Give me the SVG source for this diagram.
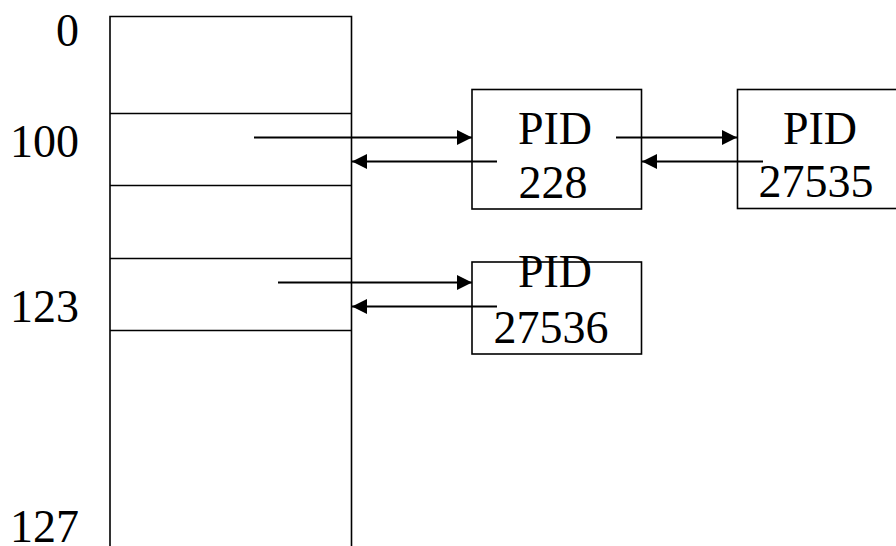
<svg xmlns="http://www.w3.org/2000/svg" width="896" height="546" viewBox="0 0 896 546">
<style>
.box{fill:#fff;stroke:#000;stroke-width:1.6}
.ln{stroke:#000;stroke-width:1.6;fill:none}
.t{font-family:"Liberation Serif","Times New Roman",serif;font-size:46px;fill:#000}
.c{stroke:#000;stroke-width:2;fill:none}
</style>
<defs>
<marker id="ah" markerUnits="userSpaceOnUse" markerWidth="16" markerHeight="16" viewBox="0 0 16 16" refX="15" refY="8" orient="auto">
<path d="M0,0.5 L15,8 L0,15.5 Z" fill="#000"/>
</marker>
</defs>
<g id="table">
<path class="ln" d="M110,560 L110,16.5 L351.5,16.5 L351.5,560"/>
<line class="ln" x1="110" y1="113.5" x2="351.5" y2="113.5"/>
<line class="ln" x1="110" y1="185.5" x2="351.5" y2="185.5"/>
<line class="ln" x1="110" y1="258.5" x2="351.5" y2="258.5"/>
<line class="ln" x1="110" y1="330.5" x2="351.5" y2="330.5"/>
<text class="t" x="79" y="46" text-anchor="end">0</text>
<text class="t" x="79" y="157" text-anchor="end">100</text>
<text class="t" x="79" y="322" text-anchor="end">123</text>
<text class="t" x="79" y="542" text-anchor="end">127</text>
</g>
<g id="pid228">
<rect class="box" x="472" y="89.5" width="169.5" height="119.5"/>
<text class="t" x="555" y="144" text-anchor="middle">PID</text>
<text class="t" x="553" y="198" text-anchor="middle">228</text>
</g>
<g id="pid27535">
<rect class="box" x="737.5" y="89.5" width="170" height="119"/>
<text class="t" x="820" y="144" text-anchor="middle">PID</text>
<text class="t" x="816" y="197" text-anchor="middle">27535</text>
</g>
<g id="pid27536">
<rect class="box" x="472" y="262" width="169.5" height="92"/>
<text class="t" x="555" y="287" text-anchor="middle">PID</text>
<text class="t" x="551" y="342.5" text-anchor="middle">27536</text>
</g>
<g id="connectors">
<line class="c" x1="254" y1="137.5" x2="472" y2="137.5" marker-end="url(#ah)"/>
<line class="c" x1="497" y1="161.5" x2="352" y2="161.5" marker-end="url(#ah)"/>
<line class="c" x1="616" y1="137.5" x2="737" y2="137.5" marker-end="url(#ah)"/>
<line class="c" x1="763" y1="161.5" x2="642" y2="161.5" marker-end="url(#ah)"/>
<line class="c" x1="278" y1="282.5" x2="472" y2="282.5" marker-end="url(#ah)"/>
<line class="c" x1="497" y1="306.5" x2="352" y2="306.5" marker-end="url(#ah)"/>
</g>
</svg>
